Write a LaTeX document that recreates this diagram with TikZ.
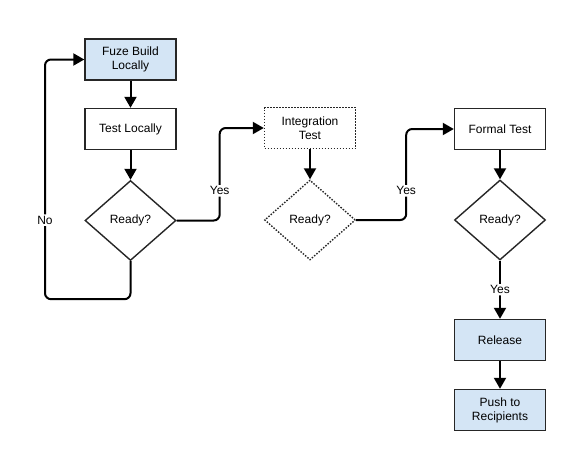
\documentclass[tikz,border=0pt]{standalone}
\usepackage{fontspec}
\setmainfont{Liberation Sans}
\usetikzlibrary{shapes.geometric,arrows.meta}

\definecolor{stepblue}{HTML}{D4E5F5}

\begin{document}
\begin{tikzpicture}[x=1pt, y=-1pt, >={Triangle[width=12pt,length=11pt]},
  stepbox/.style={rectangle, draw=black!85, line width=1.4pt, minimum width=91pt, minimum height=41pt, align=center, font=\fontsize{12}{14}\selectfont},
  decision/.style={diamond, draw=black!85, line width=1.4pt, minimum width=91pt, minimum height=80pt, inner sep=0pt, aspect=1.14, font=\fontsize{12}{14}\selectfont},
  dottedline/.style={dash pattern=on 1.5pt off 1.5pt},
  flow/.style={->, line width=2pt, rounded corners=6pt},
  edgelabel/.style={fill=white, inner sep=1.5pt, font=\fontsize{12}{14}\selectfont}]

\useasboundingbox (0,0) rectangle (571,450);

% Les etapes locales
\node[stepbox, fill=stepblue] (fuze) at (130.5,59.5) {Fuze Build\\Locally};
\node[stepbox] (testloc) at (130.5,129) {Test Locally};
\node[decision] (ready1) at (130.5,220.5) {Ready?};

% Les etapes d'integration
\node[stepbox, dottedline] (integ) at (310,128) {Integration\\Test};
\node[decision, dottedline] (ready2) at (310,220) {Ready?};

% Les etapes formelles
\node[stepbox] (formal) at (500,129) {Formal Test};
\node[decision] (ready3) at (500,220) {Ready?};
\node[stepbox, fill=stepblue] (release) at (500,340) {Release};
\node[stepbox, fill=stepblue] (push) at (500,410) {Push to\\Recipients};

% Les connexions verticales
\draw[flow] (fuze) -- (testloc);
\draw[flow] (testloc) -- (ready1);
\draw[flow] (integ) -- (ready2);
\draw[flow] (formal) -- (ready3);
\draw[flow] (ready3) -- node[edgelabel] {Yes} (release);
\draw[flow] (release) -- (push);

% Les connexions Yes / No
\draw[flow] (ready1.east) -- ++(43,0) |- node[edgelabel, pos=0.16] {Yes} (integ.west);
\draw[flow] (ready2.east) -- ++(50,0) |- node[edgelabel, pos=0.16] {Yes} (formal.west);
\draw[flow] (ready1.south) |- ++(-85.5,38) |- node[edgelabel, pos=0.165] {No} (fuze.west);

\end{tikzpicture}
\end{document}
